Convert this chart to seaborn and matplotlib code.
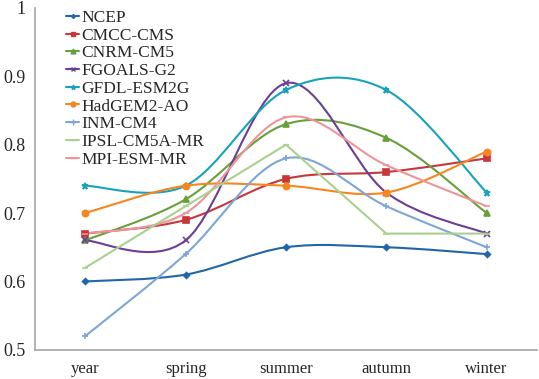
import numpy as np
import pandas as pd
import seaborn as sns
import matplotlib.pyplot as plt
from matplotlib.path import Path
from matplotlib.patches import PathPatch
from matplotlib.lines import Line2D

# Categorias e séries
seasons = ['year', 'spring', 'summer', 'autumn', 'winter']
ncep = [0.60, 0.61, 0.65, 0.65, 0.64]
cmcc_cms = [0.67, 0.69, 0.75, 0.76, 0.78]
cnrm_cm5 = [0.66, 0.72, 0.83, 0.81, 0.70]
fgoals_g2 = [0.66, 0.66, 0.89, 0.73, 0.67]
gfdl_esm2g = [0.74, 0.74, 0.88, 0.88, 0.73]
hadgem2_ao = [0.70, 0.74, 0.74, 0.73, 0.79]
inm_cm4 = [0.52, 0.64, 0.78, 0.71, 0.65]
ipsl_cm5a_mr = [0.62, 0.71, 0.80, 0.67, 0.67]
mpi_esm_mr = [0.67, 0.70, 0.84, 0.77, 0.71]

models = ['NCEP', 'CMCC-CMS', 'CNRM-CM5', 'FGOALS-G2', 'GFDL-ESM2G',
          'HadGEM2-AO', 'INM-CM4', 'IPSL-CM5A-MR', 'MPI-ESM-MR']
series = [ncep, cmcc_cms, cnrm_cm5, fgoals_g2, gfdl_esm2g,
          hadgem2_ao, inm_cm4, ipsl_cm5a_mr, mpi_esm_mr]

colors = ['#2066a8', '#c8363a', '#67a03a', '#6b3f96', '#17a2bd',
          '#f7861e', '#7ca6d6', '#a9d08e', '#ef9498']
markers = ['D', 's', '^', 'x', '*', 'o', '+', '_', '_']
msizes = [3, 4.5, 4.5, 4.5, 4.5, 4.5, 5, 5, 5]
smooth = [True, True, True, True, True, True, True, False, True]

# Tabela longa para o seaborn
rows = []
for name, vals in zip(models, series):
    for i, v in enumerate(vals):
        rows.append({'modelo': name, 'pos': i, 'valor': v})
df = pd.DataFrame(rows)

sns.set_style('white')
plt.rcParams['font.family'] = ['Liberation Serif', 'DejaVu Serif']

fig = plt.figure(figsize=(5.39, 3.79), dpi=100)
ax = fig.add_axes([0.065, 0.077, 0.931, 0.902])

# Marcadores (e linha reta para a série sem suavização)
for name, c, m, ms, sm in zip(models, colors, markers, msizes, smooth):
    sub = df[df['modelo'] == name]
    sns.lineplot(data=sub, x='pos', y='valor', ax=ax, color=c, marker=m,
                 markersize=ms, markeredgecolor=c, markeredgewidth=1.2,
                 linewidth=1.5 if not sm else 0, legend=False, zorder=3)

# Curvas suavizadas (Bezier tipo Excel)
def smooth_path(vals):
    pts = np.column_stack([np.arange(len(vals)), vals]).astype(float)
    ext = np.vstack([pts[0], pts, pts[-1]])
    verts = [pts[0]]
    codes = [Path.MOVETO]
    for i in range(len(pts) - 1):
        p0, p1, p2, p3 = ext[i], ext[i + 1], ext[i + 2], ext[i + 3]
        c1 = p1 + (p2 - p0) / 6
        c2 = p2 - (p3 - p1) / 6
        verts += [c1, c2, p2]
        codes += [Path.CURVE4] * 3
    return Path(verts, codes)

for vals, c, sm in zip(series, colors, smooth):
    if sm:
        ax.add_patch(PathPatch(smooth_path(vals), facecolor='none',
                               edgecolor=c, linewidth=1.5, zorder=2))

ax.set_xlim(-0.5, 4.5)
ax.set_ylim(0.5, 1.0)
ax.set_yticks([0.5, 0.6, 0.7, 0.8, 0.9, 1.0])
ax.set_yticklabels(['0.5', '0.6', '0.7', '0.8', '0.9', '1'])
ax.set_xticks(range(len(seasons)))
ax.set_xticklabels(seasons)
ax.set_xticks(np.arange(-0.5, 5, 1), minor=True)
ax.tick_params(axis='x', which='major', length=0, pad=8, labelsize=12)
ax.tick_params(axis='x', which='minor', length=5, width=1, color='#a6a6a6',
               direction='out')
ax.tick_params(axis='y', length=5, width=1, color='#a6a6a6', direction='out',
               labelsize=13, pad=2)
ax.set_xlabel('')
ax.set_ylabel('')

for s in ['top', 'right']:
    ax.spines[s].set_visible(False)
for s in ['left', 'bottom']:
    ax.spines[s].set_color('#a6a6a6')
    ax.spines[s].set_linewidth(1.2)

handles = [Line2D([0], [0], color=c, marker=m, markersize=ms - 1,
                  markeredgecolor=c, linewidth=1.5)
           for c, m, ms in zip(colors, markers, msizes)]
ax.legend(handles, models, loc='upper left', bbox_to_anchor=(0.048, 1.015),
          frameon=False, fontsize=12.5, handlelength=0.75, handletextpad=0.12,
          labelspacing=0.09, borderaxespad=0.0)

fig.savefig('out.png', dpi=100)
